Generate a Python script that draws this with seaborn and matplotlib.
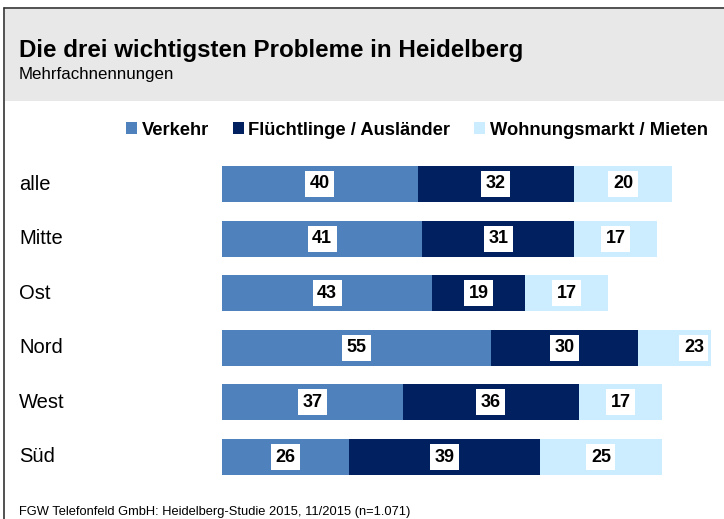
import pandas as pd
import matplotlib.pyplot as plt
import seaborn as sns
from matplotlib.patches import Patch, Rectangle
from matplotlib.lines import Line2D
from matplotlib.transforms import blended_transform_factory

groups = ["alle", "Mitte", "Ost", "Nord", "West", "Süd"]
verkehr = [40, 41, 43, 55, 37, 26]
fluechtlinge = [32, 31, 19, 30, 36, 39]
wohnung = [20, 17, 17, 23, 17, 25]
series_names = ["Verkehr", "Flüchtlinge / Ausländer", "Wohnungsmarkt / Mieten"]
colors = ["#4F81BD", "#002060", "#CCECFF"]

df = pd.DataFrame({"Gruppe": groups, "Verkehr": verkehr,
                   "Fluechtlinge": fluechtlinge, "Wohnung": wohnung})
df["cum1"] = df["Verkehr"]
df["cum2"] = df["Verkehr"] + df["Fluechtlinge"]
df["cum3"] = df["cum2"] + df["Wohnung"]

sns.set_style("white")
plt.rcParams["font.family"] = ["Liberation Sans", "DejaVu Sans"]
plt.rcParams["text.color"] = "black"

W, H = 724, 519
fig = plt.figure(figsize=(W / 100, H / 100), dpi=100)

# header box and frame lines
fig.patches.append(Rectangle((5 / W, 1 - 101 / H), 1, 92 / H, transform=fig.transFigure,
                             facecolor="#E8E8E8", edgecolor="none", zorder=0))
fig.lines.append(Line2D([4 / W, 1], [1 - 8 / H, 1 - 8 / H], transform=fig.transFigure,
                        color="#333333", lw=1.2))
fig.lines.append(Line2D([4 / W, 4 / W], [0, 1 - 8 / H], transform=fig.transFigure,
                        color="#333333", lw=1.2))

fig.text(19 / W, 1 - 50 / H, "Die drei wichtigsten Probleme in Heidelberg",
         fontsize=17.4, fontweight="bold", va="center", ha="left")
fig.text(19 / W, 1 - 74 / H, "Mehrfachnennungen", fontsize=12.2, va="center", ha="left")
fig.text(19 / W, 1 - 512 / H, "FGW Telefonfeld GmbH: Heidelberg-Studie 2015, 11/2015 (n=1.071)",
         fontsize=9.3, va="center", ha="left")

ax = fig.add_axes([222 / W, 1 - 484.3 / H, (711 - 222) / W, (484.3 - 156.7) / H])

# stacked bars drawn as overlapping cumulative bars
for col, c in zip(["cum3", "cum2", "cum1"], colors[::-1]):
    sns.barplot(data=df, x=col, y="Gruppe", orient="h", color=c, width=0.66,
                saturation=1, ax=ax, edgecolor="none")

ax.set_xlim(0, 100)
ax.set_ylim(5.5, -0.5)
ax.set_xlabel("")
ax.set_ylabel("")
ax.set_xticks([])
ax.set_yticks([])
for s in ax.spines.values():
    s.set_visible(False)

# value labels
for i, row in df.iterrows():
    starts = [0, row["cum1"], row["cum2"]]
    vals = [row["Verkehr"], row["Fluechtlinge"], row["Wohnung"]]
    for st, v in zip(starts, vals):
        ax.text(st + v / 2, i, str(v), ha="center", va="center", fontsize=13,
                fontweight="bold", color="black",
                bbox=dict(boxstyle="square,pad=0.25", facecolor="white", edgecolor="none"))

# category labels
trans = blended_transform_factory(fig.transFigure, ax.transData)
for i, g in enumerate(groups):
    ax.text(19 / W, i, g, transform=trans, ha="left", va="center", fontsize=14.5)

handles = [Patch(facecolor=c, edgecolor="none", label=n) for c, n in zip(colors, series_names)]
fig.legend(handles=handles, loc="center", bbox_to_anchor=(417 / W, 1 - 130 / H), ncol=3,
           frameon=False, prop={"weight": "bold", "size": 13.2}, handlelength=0.6,
           handleheight=0.6, handletextpad=0.25, columnspacing=1.3)

fig.savefig("out.png", dpi=100)
